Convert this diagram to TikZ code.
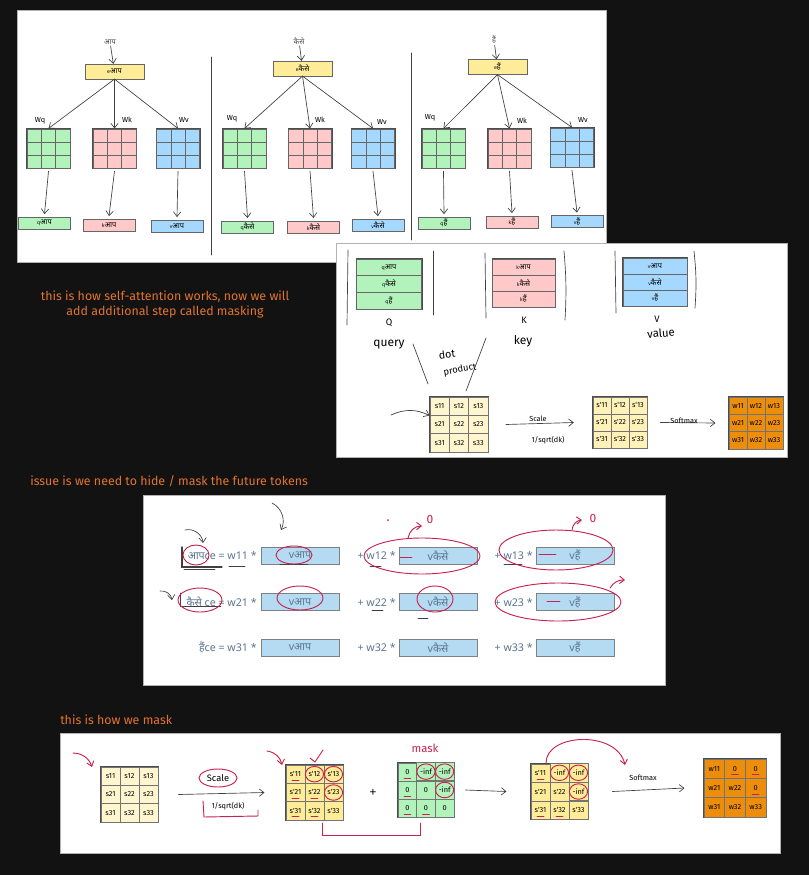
\documentclass[tikz,border=0pt]{standalone}
\usepackage{fontspec}
\setmainfont{Noto Sans}
\newfontfamily\hi[Script=Devanagari]{Noto Sans}
\newfontfamily\hand{Fira Sans}
\usepackage{xcolor}
\usetikzlibrary{arrows.meta, positioning, matrix}

\definecolor{bgdark}{HTML}{121212}
\definecolor{notecol}{HTML}{E2732F}
\definecolor{redcol}{HTML}{C8234E}
\definecolor{qgreen}{HTML}{B2F2BB}
\definecolor{kpink}{HTML}{FFC9C9}
\definecolor{vblue}{HTML}{A5D8FF}
\definecolor{eyellow}{HTML}{FFEC99}
\definecolor{spale}{HTML}{FFF6D0}
\definecolor{worange}{HTML}{EC8E0C}
\definecolor{boxblue}{HTML}{B5DBF3}
\definecolor{eqcol}{HTML}{5C7590}

% small index letter in front of a token
\newcommand\tokn[2]{{\fontsize{3.8}{4}\selectfont #1}#2}

\begin{document}
\begin{tikzpicture}[x=0.75pt, y=-0.75pt, line cap=round,
    >={Straight Barb[length=3.5pt,width=5.5pt]},
    panel/.style={fill=white, draw=black!30, line width=0.6pt},
    note/.style={text=notecol, font=\hand\fontsize{9.3}{11.5}\selectfont, inner sep=0pt},
    pen/.style={draw=black!75, line width=0.5pt},
    redpen/.style={draw=redcol, line width=0.7pt},
    lbl/.style={font=\hi\fontsize{5.5}{6}\selectfont, text=black!70, inner sep=1pt},
    hw/.style={font=\hand\fontsize{5.5}{6}\selectfont, inner sep=1pt},
    tokbox/.style={draw=black!60, fill=#1, minimum width=44pt, minimum height=11pt, inner sep=0pt, font=\hi\fontsize{5.5}{6}\selectfont},
    outbox/.style={draw=black!60, fill=#1, minimum width=39pt, minimum height=9pt, inner sep=0pt, font=\hi\fontsize{5.5}{6}\selectfont},
    wgrid/.style={matrix of nodes, nodes in empty cells, inner sep=0pt, draw=black!70,
        column sep=-0.4pt, row sep=-0.4pt,
        nodes={draw=black!60, fill=#1, minimum width=10.75pt, minimum height=9.75pt, inner sep=0pt}},
    stack/.style={matrix of nodes, inner sep=0pt, draw=black!70, row sep=-0.4pt,
        nodes={draw=black!60, fill=#1, minimum width=49pt, minimum height=12.5pt, inner sep=0pt, font=\hi\fontsize{5.5}{6}\selectfont}},
    smat/.style={matrix of nodes, nodes in empty cells, inner sep=0pt, draw=black!70,
        column sep=-0.4pt, row sep=-0.4pt,
        nodes={draw=black!55, fill=#1, minimum width=14.25pt, minimum height=13.75pt, inner sep=0pt, font=\hand\fontsize{5.5}{6}\selectfont}},
    vbox/.style={draw=black!50, fill=boxblue, minimum width=58.5pt, minimum height=13pt, inner sep=0pt, font=\hi\fontsize{8}{9}\selectfont, text=eqcol},
    eq/.style={font=\hi\fontsize{8}{9}\selectfont, text=eqcol, inner sep=0pt}]

  \fill[bgdark] (0,0) rectangle (809,875);
  \useasboundingbox (0,0) rectangle (809,875);

  %% panel 1 : q, k, v for every token
  \fill[panel] (17,10) rectangle (606,262);
  \draw[pen] (211,57) -- (211,255);
  \draw[pen] (411,53) -- (411,240);

  \node[lbl] (t1) at (110,42) {आप};
  \node[tokbox=eyellow] (e1) at (114.5,71.5) {\tokn{e}{आप}};
  \matrix[wgrid=qgreen] (q1m) at (48.5,148.5) { & & \\ & & \\ & & \\ };
  \matrix[wgrid=kpink] (k1m) at (114.5,148.5) { & & \\ & & \\ & & \\ };
  \matrix[wgrid=vblue] (v1m) at (178,148.5) { & & \\ & & \\ & & \\ };
  \node[outbox=qgreen] (qo1) at (44.5,223) {\tokn{q}{आप}};
  \node[outbox=kpink] (ko1) at (109,225) {\tokn{k}{आप}};
  \node[outbox=vblue] (vo1) at (177,226) {\tokn{v}{आप}};
  \node[hw] at (40,121) {Wq};
  \node[hw] at (127,120) {Wk};
  \node[hw] at (184,120) {Wv};

  \node[lbl] (t2) at (299,41) {कैसे};
  \node[tokbox=eyellow] (e2) at (302.5,68.5) {\tokn{e}{कैसे}};
  \matrix[wgrid=qgreen] (q2m) at (244.5,148.5) { & & \\ & & \\ & & \\ };
  \matrix[wgrid=kpink] (k2m) at (310,148.5) { & & \\ & & \\ & & \\ };
  \matrix[wgrid=vblue] (v2m) at (373,148.5) { & & \\ & & \\ & & \\ };
  \node[outbox=qgreen] (qo2) at (247.5,227) {\tokn{q}{कैसे}};
  \node[outbox=kpink] (ko2) at (313.5,227) {\tokn{k}{कैसे}};
  \node[outbox=vblue] (vo2) at (378,225) {\tokn{v}{कैसे}};
  \node[hw] at (232,119) {Wq};
  \node[hw] at (320,120) {Wk};
  \node[hw] at (382,122) {Wv};

  \node[lbl] (t3) at (494,40) {हैं};
  \node[tokbox=eyellow] (e3) at (497.5,67) {\tokn{e}{हैं}};
  \matrix[wgrid=qgreen] (q3m) at (443.5,148.5) { & & \\ & & \\ & & \\ };
  \matrix[wgrid=kpink] (k3m) at (509.5,148.5) { & & \\ & & \\ & & \\ };
  \matrix[wgrid=vblue] (v3m) at (572,147.5) { & & \\ & & \\ & & \\ };
  \node[outbox=qgreen] (qo3) at (444,223) {\tokn{q}{हैं}};
  \node[outbox=kpink] (ko3) at (512,222) {\tokn{k}{हैं}};
  \node[outbox=vblue] (vo3) at (577,221.5) {\tokn{v}{हैं}};
  \node[hw] at (430,118) {Wq};
  \node[hw] at (522,121) {Wk};
  \node[hw] at (583,120) {Wv};

  \foreach \i in {1,2,3} {
    \draw[pen,->] (t\i) -- (e\i);
    \draw[pen,->] (e\i.south) -- (q\i m.north);
    \draw[pen,->] (e\i.south) -- (k\i m.north);
    \draw[pen,->] (e\i.south) -- (v\i m.north);
    \draw[pen,->] ([yshift=-2pt]q\i m.south) -- ([yshift=2pt]qo\i.north);
    \draw[pen,->] ([yshift=-2pt]k\i m.south) -- ([yshift=2pt]ko\i.north);
    \draw[pen,->] ([yshift=-2pt]v\i m.south) -- ([yshift=2pt]vo\i.north);
  }

  %% panel 2 : Q K V and the scores
  \fill[panel] (336,243) rectangle (787,457);
  \matrix[stack=qgreen] (qst) at (389,284)
    {\tokn{q}{आप} \\ \tokn{q}{कैसे} \\ \tokn{q}{हैं} \\};
  \matrix[stack=kpink, nodes={minimum width=47pt, minimum height=12pt}] (kst) at (523.5,283)
    {\tokn{k}{आप} \\ \tokn{k}{कैसे} \\ \tokn{k}{हैं} \\};
  \matrix[stack=vblue, nodes={minimum width=48pt, minimum height=12pt}] (vst) at (655,282)
    {\tokn{v}{आप} \\ \tokn{v}{कैसे} \\ \tokn{v}{हैं} \\};
  \draw[pen] (348,250) -- (347,325);
  \draw[pen] (433,251) -- (433,315);
  \draw[pen] (485,253) -- (486,318);
  \draw[pen] (564,251) to[bend left=4] (565,320);
  \draw[pen] (615,251) -- (616,313);
  \draw[pen] (694,251) to[bend left=5] (695,308);
  \node[hw, font=\hand\fontsize{7}{8}\selectfont] at (389,323) {Q};
  \node[hw, font=\hand\fontsize{7}{8}\selectfont] at (524,320) {K};
  \node[hw, font=\hand\fontsize{7}{8}\selectfont] at (657,319) {V};
  \node[hw, font=\hand\fontsize{9}{10}\selectfont] at (389,345) {query};
  \node[hw, font=\hand\fontsize{9}{10}\selectfont] at (523,341) {key};
  \node[hw, font=\hand\fontsize{8.5}{10}\selectfont, rotate=5] at (661,333) {value};

  \draw[pen] (413,344) -- (428,384);
  \draw[pen] (486,338) -- (466,391);
  \node[hw, font=\hand\fontsize{8}{9}\selectfont, rotate=8] at (447,354) {dot};
  \node[hw, font=\hand\fontsize{7}{8}\selectfont, rotate=10] at (460,370) {product};

  \matrix[smat=spale, nodes={minimum width=14.5pt}] (sm1) at (459,424.5)
    {s11 & s12 & s13 \\ s21 & s22 & s23 \\ s31 & s32 & s33 \\};
  \matrix[smat=eyellow!70, nodes={minimum width=13.5pt, minimum height=12.75pt}] (sm2) at (620,422.5)
    {s'11 & s'12 & s'13 \\ s'21 & s'22 & s'23 \\ s'31 & s'32 & s'33 \\};
  \matrix[smat=worange, nodes={minimum width=13.5pt, minimum height=13pt}] (wm1) at (756,423)
    {w11 & w12 & w13 \\ w21 & w22 & w23 \\ w31 & w32 & w33 \\};
  \coordinate (dp) at (391,415);
  \draw[pen,->] (dp) to[bend left=25] ([yshift=6.75pt]sm1.west);
  \draw[pen,->] ([xshift=13pt]sm1.east) -- ([xshift=-14pt]sm2.west);
  \draw[pen,->] ([xshift=9.75pt]sm2.east) -- ([xshift=-9.75pt]wm1.west);
  \node[hw] at (538,419) {Scale};
  \node[hw] at (548,440) {1/sqrt(dk)};
  \node[hw] at (684,421) {Softmax};

  %% notes
  \node[note, align=center] at (165,304.5)
    {this is how self-attention works, now we will\\add additional step called masking};
  \node[note, anchor=west] at (30,481) {issue is we need to hide / mask the future tokens};
  \node[note, anchor=west] at (60,720) {this is how we mask};

  %% panel 3 : weighted sum of the values
  \fill[panel] (143,495) rectangle (665,685);
  \foreach \r/\y/\tk/\a/\b/\c in {1/555.5/आपce/w11/w12/w13, 2/602/कैसे ce/w21/w22/w23, 3/647.5/हैंce/w31/w32/w33} {
    \node[eq, anchor=east] (lhs\r) at (257,\y) {\tk{} = \a{} *};
    \node[vbox] (va\r) at (300,\y) {\tokn{}{v}आप};
    \node[eq, anchor=east] (pb\r) at (396,\y) {+ \b{} *};
    \node[vbox] (vk\r) at (438,\y) {vकैसे};
    \node[eq, anchor=east] (pc\r) at (533,\y) {+ \c{} *};
    \node[vbox] (vh\r) at (575,\y) {vहैं};
  }
  % black pen marks
  \draw[pen,->] (185,530) to[bend left=50] (203,543);
  \draw[pen,->] (272,503) to[bend left=45] (281,530);
  \draw[pen,->] (160,591) to[bend left=45] (172,600);
  \draw[pen, line width=0.8pt] (182,547) -- (182,567) -- (222,567);
  \draw[pen] (184,569) -- (215,569);
  \draw[pen] (180,593) -- (180,606) -- (221,606);
  \draw[pen] (229,566) -- (245,566);
  \draw[pen] (280,564) -- (308,564);
  \draw[pen] (370,566) -- (381,566);
  \draw[pen] (504,564) -- (522,564);
  \draw[pen] (372,610) -- (383,610);
  \draw[pen] (418,618) -- (428,618);
  % red pen marks
  \draw[redpen] (196,555) ellipse [x radius=13, y radius=10];
  \draw[redpen] (294,555) ellipse [x radius=18, y radius=9];
  \draw[redpen] (422,556) ellipse [x radius=58, y radius=18];
  \draw[redpen] (556,550) ellipse [x radius=57, y radius=20];
  \draw[redpen] (200,600) ellipse [x radius=22, y radius=12];
  \draw[redpen] (300,598) ellipse [x radius=23, y radius=12];
  \draw[redpen] (435,599) ellipse [x radius=18, y radius=13];
  \draw[redpen] (558,602) ellipse [x radius=63, y radius=19];
  \draw[redpen,->] (408,538) to[bend left=40] (422,526);
  \draw[redpen,->] (572,530) to[bend left=40] (582,520);
  \draw[redpen,->] (610,588) to[bend left=30] (625,580);
  \node[text=redcol, font=\hand\fontsize{9}{10}\selectfont] at (430,519) {0};
  \node[text=redcol, font=\hand\fontsize{9}{10}\selectfont] at (593,518) {0};
  \draw[redpen] (400,557) -- (412,557);
  \draw[redpen] (539,554) -- (556,554);
  \draw[redpen] (547,601) -- (560,601);
  \fill[redcol] (388,520) circle [radius=1];

  %% panel 4 : masking
  \fill[panel] (60,733) rectangle (780,853);
  \matrix[smat=spale] (sb1) at (129.5,794.5)
    {s11 & s12 & s13 \\ s21 & s22 & s23 \\ s31 & s32 & s33 \\};
  \matrix[smat=eyellow] (sb2) at (314.5,792.5)
    {s'11 & s'12 & s'13 \\ s'21 & s'22 & s'23 \\ s'31 & s'32 & s'33 \\};
  \matrix[smat=qgreen, nodes={minimum width=14pt, minimum height=13.5pt}] (mk) at (426,790)
    {0 & -inf & -inf \\ 0 & 0 & -inf \\ 0 & 0 & 0 \\};
  \matrix[smat=eyellow] (sb3) at (559.5,791.5)
    {s'11 & -inf & -inf \\ s'21 & s'22 & -inf \\ s'31 & s'32 & s'33 \\};
  \matrix[smat=worange, nodes={minimum width=15.5pt, minimum height=14.5pt}] (wb) at (735,788)
    {w11 & 0 & 0 \\ w21 & w22 & 0 \\ w31 & w32 & w33 \\};
  \draw[pen,->] ([xshift=15pt]sb1.east) -- ([xshift=-15.75pt]sb2.west);
  \draw[pen,->] ([xshift=8.25pt]mk.east) -- ([xshift=-18pt]sb3.west);
  \draw[pen,->] ([xshift=18pt]sb3.east) -- ([xshift=-14.25pt]wb.west);
  \node[hw, font=\hand\fontsize{7}{8}\selectfont] (scl) at (218,778) {Scale};
  \node[hw] at (228,806) {1/sqrt(dk)};
  \node[hw] at (643,778) {Softmax};
  \node[font=\bfseries\fontsize{9}{10}\selectfont] at (373,793) {+};
  \node[text=redcol, font=\hand\fontsize{8.5}{10}\selectfont] at (425,748) {mask};

  \draw[redpen,->] (73,753) to[bend left=35] (92,767);
  \draw[redpen,->] (267,751) to[bend left=35] (282,765);
  \draw[redpen] (310,758) -- (315,762) -- (323,750);
  \draw[redpen] (scl) ellipse [x radius=19, y radius=9];
  \draw[redpen] (203,801) -- (204,817) -- (258,816) -- (258,810);
  \draw[redpen] (322,823) -- (322,835) -- (420,835) -- (420,823);
  \draw[redpen,->] (546,763) .. controls (546,733) and (617,730) .. (625,765);
  \foreach \c in {sb2-1-2, sb2-1-3, sb2-2-3, mk-1-2, mk-1-3, mk-2-3, sb3-1-2, sb3-1-3, sb3-2-3}
    \draw[redpen] (\c) ellipse [x radius=6.8pt, y radius=5.8pt];
  \foreach \c in {sb2-1-1, sb2-2-1, sb2-3-1, sb2-2-2, sb2-3-2, mk-1-1, mk-2-1, mk-3-1, mk-3-2,
                  sb3-1-1, sb3-3-1, sb3-3-2, wb-1-2, wb-1-3, wb-2-3}
    \draw[redpen] ([xshift=-2.5pt,yshift=-4.5pt]\c.center) -- ++(5pt,0);
\end{tikzpicture}
\end{document}
